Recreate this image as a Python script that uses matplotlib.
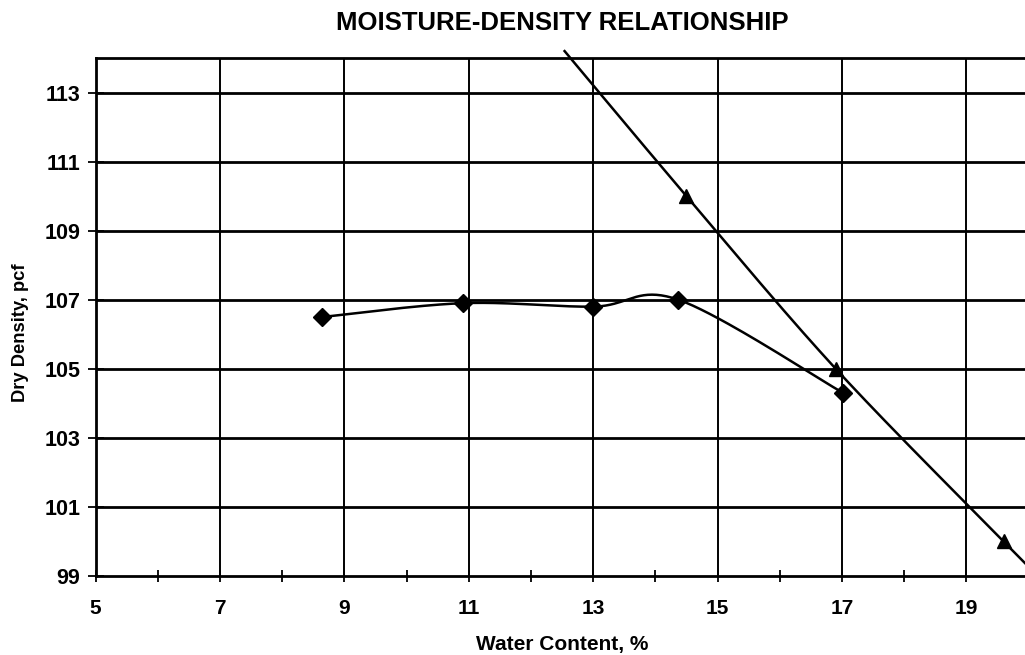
import numpy as np
import matplotlib
matplotlib.use("Agg")
import matplotlib.pyplot as plt

# ---- data ----
water_content = [8.64, 10.9, 13.0, 14.37, 17.02]
dry_density = [106.5, 106.9, 106.8, 107.0, 104.3]

zav_marker_wc = [14.5, 16.9, 19.6]
zav_marker_dd = [110.0, 105.0, 100.0]
# zero-air-voids line, extended beyond the plot area
zav_line_wc = [12.54, 14.5, 16.9, 19.6, 20.6]
zav_line_dd = [114.2, 110.0, 105.0, 100.0, 98.2]

x_ticks = [5, 7, 9, 11, 13, 15, 17, 19]
x_minor = [6, 8, 10, 12, 14, 16, 18, 20]
y_ticks = [99, 101, 103, 105, 107, 109, 111, 113]

title = "MOISTURE-DENSITY RELATIONSHIP"
xlabel = "Water Content, %"
ylabel = "Dry Density, pcf"

plt.rcParams['font.family'] = ['Liberation Sans', 'DejaVu Sans']

W, H = 1025, 655
fig = plt.figure(figsize=(W / 100, H / 100), dpi=100)
left_px, right_px, top_px, bot_px = 95.7, 1028.5, 58, 576
ax = fig.add_axes([left_px / W, 1 - bot_px / H, (right_px - left_px) / W, (bot_px - top_px) / H])
ax.set_xlim(5, 20)
ax.set_ylim(99, 114)

sx = (right_px - left_px) / 15.0
sy = (bot_px - top_px) / 15.0


def smooth(xs, ys, n=40):
    # Excel-like smoothed line (Catmull-Rom / Bezier), computed in pixel space
    P = np.column_stack([np.asarray(xs) * sx, np.asarray(ys) * sy])
    out = []
    for i in range(len(P) - 1):
        p0 = P[i - 1] if i > 0 else P[i]
        p1 = P[i]
        p2 = P[i + 1]
        p3 = P[i + 2] if i + 2 < len(P) else P[i + 1]
        c1 = p1 + (p2 - p0) / 6.0
        c2 = p2 - (p3 - p1) / 6.0
        t = np.linspace(0, 1, n)[:, None]
        seg = ((1 - t) ** 3) * p1 + 3 * ((1 - t) ** 2) * t * c1 + 3 * (1 - t) * t ** 2 * c2 + t ** 3 * p2
        out.append(seg if i == 0 else seg[1:])
    out = np.vstack(out)
    return out[:, 0] / sx, out[:, 1] / sy


# grid
for xv in x_ticks[1:]:
    ax.axvline(xv, color='black', lw=1.4, zorder=1)
for yv in y_ticks[1:]:
    ax.axhline(yv, color='black', lw=2.0, zorder=1)

cx, cy = smooth(water_content, dry_density)
ax.plot(cx, cy, color='black', lw=1.8, zorder=3)
ax.plot(water_content, dry_density, linestyle='none', marker='D', markersize=9,
        color='black', zorder=4)

zx, zy = smooth(zav_line_wc, zav_line_dd)
ax.plot(zx, zy, color='black', lw=1.8, zorder=3, clip_on=False)
ax.plot(zav_marker_wc, zav_marker_dd, linestyle='none', marker='^', markersize=10.5,
        color='black', zorder=4)

for s in ['left', 'bottom', 'top']:
    ax.spines[s].set_linewidth(2.0)
    ax.spines[s].set_color('black')
ax.spines['right'].set_visible(False)

ax.set_xticks(x_ticks)
ax.set_xticks(x_minor, minor=True)
ax.set_yticks(y_ticks)
ax.tick_params(axis='x', which='both', direction='inout', length=9, width=1.3, pad=12,
               labelsize=15)
ax.tick_params(axis='y', which='major', direction='inout', length=12, width=1.3, pad=5,
               labelsize=15.5)
for lab in ax.get_xticklabels() + ax.get_yticklabels():
    lab.set_fontweight('bold')

ax.set_title(title, fontsize=18.5, fontweight='bold', pad=20)
ax.set_xlabel(xlabel, fontsize=15, fontweight='bold', labelpad=12)
ax.set_ylabel(ylabel, fontsize=13.2, fontweight='bold')
ax.yaxis.set_label_coords((29 - left_px) / (right_px - left_px), (bot_px - 333) / (bot_px - top_px))

fig.savefig("out.png", dpi=100)
